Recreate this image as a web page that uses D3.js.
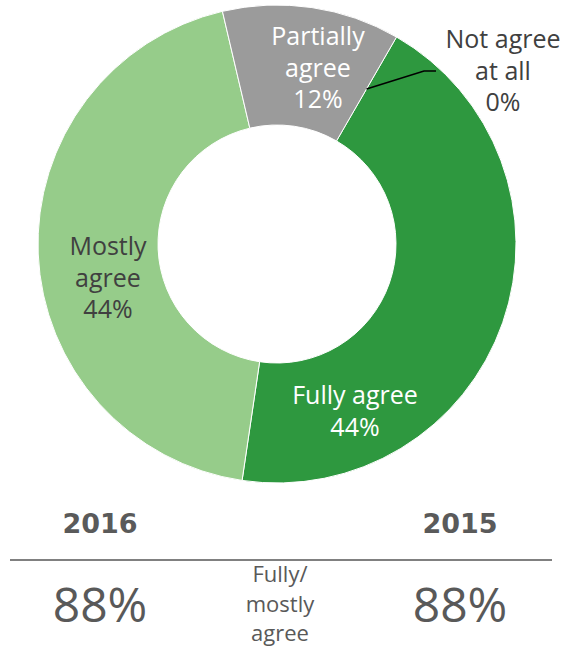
<!DOCTYPE html>
<html>
<head>
<meta charset="utf-8">
<script src="https://cdn.jsdelivr.net/npm/d3@7"></script>
<style>
  html, body { margin: 0; padding: 0; background: #ffffff; }
  svg { display: block; }
</style>
</head>
<body>
<svg id="chart" width="566" height="649"></svg>
<script>
// Survey answers (share of respondents, %)
const categories = ["Fully agree", "Mostly agree", "Partially agree", "Not agree at all"];
const values = [44, 44, 12, 0];
const labelLines = [["Fully agree"], ["Mostly", "agree"], ["Partially", "agree"], ["Not agree", "at all"]];

// Year comparison below the ring
const years = ["2016", "2015"];
const combinedShare = [88, 88];
const combinedCaption = ["Fully/", "mostly", "agree"];

const colors = ["#2e983f", "#96cc8a", "#9b9b9b", "#9b9b9b"];
const labelColors = ["#ffffff", "#404040", "#ffffff", "#404040"];

// Label placement: first baseline, in page pixels
const labelLayout = [
  { x: 355, y: 404 },
  { x: 108, y: 255 },
  { x: 318, y: 45 },
  { x: 503, y: 48 }
];

const W = 566, H = 649;
const cx = 277, cy = 244;
const outerR = 239, innerR = 119;
const lineStep = 31.5;
const labelFont = "'Open Sans', 'Liberation Sans', sans-serif";

const svg = d3.select("#chart");

const data = categories.map((c, i) => ({ name: c, value: values[i], idx: i }));

const startDeg = 30;
const pie = d3.pie()
  .value(d => d.value)
  .sort(null)
  .startAngle(startDeg * Math.PI / 180)
  .endAngle(startDeg * Math.PI / 180 + 2 * Math.PI);

const arc = d3.arc().innerRadius(innerR).outerRadius(outerR);
const arcs = pie(data);

const ring = svg.append("g").attr("transform", `translate(${cx},${cy})`);

ring.selectAll("path.slice")
  .data(arcs.filter(a => a.data.value > 0))
  .join("path")
  .attr("class", "slice")
  .attr("d", arc)
  .attr("fill", d => colors[d.data.idx])
  .attr("stroke", "#ffffff")
  .attr("stroke-width", 1);

// Leader line for the zero-width slice
const zeroArc = arcs.find(a => a.data.value === 0);
if (zeroArc) {
  const midR = (innerR + outerR) / 2;
  const a0 = zeroArc.startAngle;
  const p0 = [cx + midR * Math.sin(a0), cy - midR * Math.cos(a0)];
  const lay = labelLayout[zeroArc.data.idx];
  const elbow = [lay.x - 79, lay.y + 23];
  const end = [lay.x - 67, lay.y + 23];
  svg.append("path")
    .attr("d", d3.line()([p0, elbow, end]))
    .attr("fill", "none")
    .attr("stroke", "#000000")
    .attr("stroke-width", 1.6);
}

// Slice labels
arcs.forEach(a => {
  const i = a.data.idx;
  const lay = labelLayout[i];
  const lines = labelLines[i].concat([d3.format("d")(a.data.value) + "%"]);
  const t = svg.append("text")
    .attr("x", lay.x)
    .attr("y", lay.y)
    .attr("text-anchor", "middle")
    .attr("fill", labelColors[i])
    .style("font-family", labelFont)
    .style("font-weight", 400)
    .style("font-size", "25px");
  lines.forEach((ln, k) => {
    t.append("tspan").attr("x", lay.x).attr("dy", k === 0 ? 0 : lineStep).text(ln);
  });
});

// Year comparison block
const yearX = d3.scalePoint().domain(years).range([100, 460]);

svg.selectAll("text.year")
  .data(years)
  .join("text")
  .attr("class", "year")
  .attr("x", d => yearX(d))
  .attr("y", 533)
  .attr("text-anchor", "middle")
  .attr("fill", "#5a5a5a")
  .style("font-family", "'DejaVu Sans', sans-serif")
  .style("font-weight", "bold")
  .style("font-size", "27px")
  .text(d => d);

svg.append("line")
  .attr("x1", 10).attr("x2", 552)
  .attr("y1", 560).attr("y2", 560)
  .attr("stroke", "#808080")
  .attr("stroke-width", 2);

svg.selectAll("text.share")
  .data(years)
  .join("text")
  .attr("class", "share")
  .attr("x", d => yearX(d))
  .attr("y", 622)
  .attr("text-anchor", "middle")
  .attr("fill", "#595959")
  .style("font-family", labelFont)
  .style("font-weight", 400)
  .style("font-size", "48px")
  .text((d, i) => combinedShare[i] + "%");

const cap = svg.append("text")
  .attr("x", 280)
  .attr("y", 582)
  .attr("text-anchor", "middle")
  .attr("fill", "#595959")
  .style("font-family", labelFont)
  .style("font-weight", 400)
  .style("font-size", "22px");
combinedCaption.forEach((ln, k) => {
  cap.append("tspan").attr("x", 280).attr("dy", k === 0 ? 0 : 29.5).text(ln);
});
</script>
</body>
</html>
